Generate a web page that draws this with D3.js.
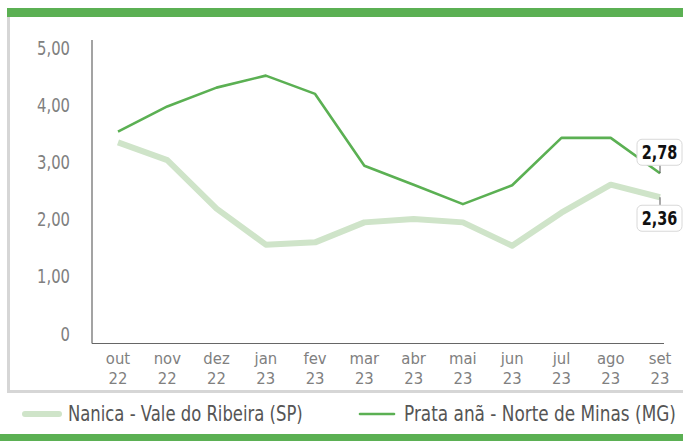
<!DOCTYPE html>
<html>
<head>
<meta charset="utf-8">
<script src="https://cdn.jsdelivr.net/npm/d3@7"></script>
<style>
  html, body { margin: 0; padding: 0; background: #fff; }
  #chart svg { display: block; }
  text { font-family: "DejaVu Sans", "Roboto", sans-serif; }
</style>
</head>
<body>
<div id="chart"></div>
<script>
(() => {
  "use strict";

  const months = ["out","nov","dez","jan","fev","mar","abr","mai","jun","jul","ago","set"];
  const years  = ["22","22","22","23","23","23","23","23","23","23","23","23"];
  const nanica = [3.32,3.01,2.16,1.53,1.57,1.92,1.98,1.92,1.51,2.09,2.58,2.36];
  const prata  = [3.51,3.95,4.28,4.49,4.17,2.91,2.58,2.24,2.57,3.40,3.40,2.78];
  const yTicks = [0,1,2,3,4,5];

  const seriesList = [
    { name: "Nanica - Vale do Ribeira (SP)", values: nanica, color: "#cfe4c9", width: 6 },
    { name: "Prata anã - Norte de Minas (MG)", values: prata, color: "#5bb053", width: 2.6 }
  ];

  const W = 683, H = 441;
  const GREEN = "#5bb053", FRAME = "#d6d6d6";
  const fmt = v => v === 0 ? "0" : v.toFixed(2).replace(".", ",");

  // no condensed face installed, so squeeze glyphs horizontally
  const squeeze = (px, py, f) => (d, i) => `translate(${px(d, i)},${py(d, i)}) scale(${f},1)`;

  const svg = d3.select("#chart").append("svg").attr("width", W).attr("height", H);

  // frame: green bands top/bottom, grey left + bottom rule
  svg.append("rect").attr("x", 7).attr("y", 8).attr("width", W - 7).attr("height", 9).attr("fill", GREEN);
  svg.append("rect").attr("x", 7).attr("y", 17).attr("width", 3).attr("height", 376).attr("fill", FRAME);
  svg.append("rect").attr("x", 7).attr("y", 390).attr("width", W - 7).attr("height", 3).attr("fill", FRAME);
  svg.append("rect").attr("x", 0).attr("y", 434).attr("width", W).attr("height", 7).attr("fill", GREEN);

  const x = d3.scalePoint().domain(d3.range(months.length)).range([118, 660]);
  const y = d3.scaleLinear().domain([0, 5]).range([332, 46.5]);

  // axes lines
  svg.append("line").attr("x1", 92).attr("x2", 92).attr("y1", 40).attr("y2", 343.5)
    .attr("stroke", "#666").attr("stroke-width", 1.2);
  svg.append("line").attr("x1", 92).attr("x2", 664).attr("y1", 343.5).attr("y2", 343.5)
    .attr("stroke", "#666").attr("stroke-width", 1.2);

  // y labels
  svg.append("g").selectAll("text").data(yTicks).join("text")
    .attr("transform", squeeze(() => 70, d => y(d) + 8.5, 0.78))
    .attr("text-anchor", "end").attr("fill", "#808080").style("font-size", "19px")
    .text(fmt);

  // x labels: month over year
  const xg = svg.append("g").attr("fill", "#808080").style("font-size", "16.5px").attr("text-anchor", "middle");
  xg.selectAll("text.m").data(months).join("text").attr("class", "m")
    .attr("transform", squeeze((d, i) => x(i), () => 364, 0.9))
    .text(d => d);
  xg.selectAll("text.yr").data(years).join("text").attr("class", "yr")
    .attr("transform", squeeze((d, i) => x(i), () => 383.5, 0.9))
    .text(d => d);

  // lines
  const line = d3.line().x((d, i) => x(i)).y(d => y(d)).curve(d3.curveLinear);
  svg.append("g").selectAll("path").data(seriesList).join("path")
    .attr("d", d => line(d.values))
    .attr("fill", "none")
    .attr("stroke", d => d.color)
    .attr("stroke-width", d => d.width)
    .attr("stroke-linejoin", "round");

  // end value labels
  const last = months.length - 1;
  const callouts = [
    { v: prata[last], above: true },
    { v: nanica[last], above: false }
  ];
  const cg = svg.append("g").selectAll("g").data(callouts).join("g");
  const bw = 45, bh = 26, gap = 8;
  const boxTop = d => d.above ? y(d.v) - gap - bh : y(d.v) + gap;
  cg.append("line")
    .attr("x1", x(last)).attr("x2", x(last))
    .attr("y1", d => y(d.v))
    .attr("y2", d => d.above ? y(d.v) - gap : y(d.v) + gap)
    .attr("stroke", "#555").attr("stroke-width", 1);
  cg.append("rect")
    .attr("x", x(last) - 23)
    .attr("y", boxTop)
    .attr("width", bw).attr("height", bh).attr("rx", 5)
    .attr("fill", "#fff").attr("stroke", "#d8d8d8");
  cg.append("text")
    .attr("transform", squeeze(() => x(last) - 0.5, d => boxTop(d) + bh / 2 + 7, 0.76))
    .attr("text-anchor", "middle")
    .attr("fill", "#111").style("font-size", "19px").style("font-weight", "bold")
    .text(d => fmt(d.v));

  // legend
  const legendPos = [{ x: 25, tx: 68, w: 235 }, { x: 360, tx: 404, w: 272 }];
  const lg = svg.append("g").selectAll("g").data(seriesList).join("g");
  lg.append("line")
    .attr("x1", (d, i) => legendPos[i].x).attr("x2", (d, i) => legendPos[i].x + 34)
    .attr("y1", 414).attr("y2", 414)
    .attr("stroke", d => d.color).attr("stroke-width", d => d.width).attr("stroke-linecap", "round");
  lg.append("text")
    .attr("fill", "#555").style("font-size", "21px")
    .text(d => d.name)
    .attr("transform", function(d, i) {
      const f = legendPos[i].w / this.getComputedTextLength();
      return `translate(${legendPos[i].tx},421) scale(${f.toFixed(3)},1)`;
    });
})();
</script>
</body>
</html>
